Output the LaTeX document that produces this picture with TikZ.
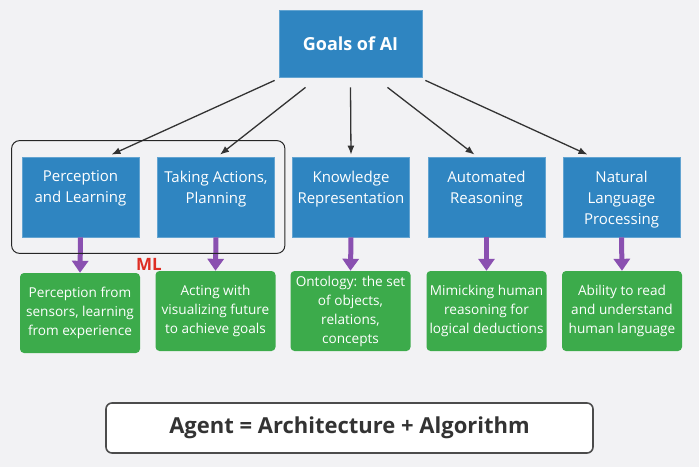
\documentclass[tikz,border=0pt]{standalone}
\usepackage{fontspec}
\setmainfont{Open Sans}
\usetikzlibrary{arrows.meta,positioning,fit}
\tikzset{>={Latex[length=9pt,width=7pt]}}
\definecolor{aiblue}{RGB}{47,133,193}
\definecolor{aigreen}{RGB}{60,171,75}
\definecolor{aipurple}{RGB}{138,80,176}
\definecolor{aibg}{RGB}{242,242,244}
\definecolor{aired}{RGB}{222,45,35}
\definecolor{aigray}{RGB}{51,51,51}

\begin{document}
\begin{tikzpicture}[x=1pt,y=-1pt,
    goalbox/.style={fill=aiblue,draw=aiblue!75!white,line width=0.8pt,
      minimum width=117pt,minimum height=80pt,inner sep=0pt},
    goaltext/.style={text=white,align=center,inner sep=0pt,
      font=\fontsize{15}{21}\selectfont},
    descbox/.style={fill=aigreen,rounded corners=4pt,minimum width=120pt,
      minimum height=80pt,inner sep=0pt,text=white,align=center,
      font=\fontsize{13.6}{19}\selectfont},
    subgoal/.style={->,line width=1.3pt,black!80},
    detail/.style={-{Triangle[length=12pt,width=16pt]},line width=5pt,aipurple}]
  \useasboundingbox (0,0) rectangle (699,467);
  \fill[aibg] (0,0) rectangle (699,467);
  % top goal
  \node[goalbox,minimum width=143pt,minimum height=67pt,text=white,
    font=\fontsize{18}{18}\bfseries\selectfont] (goals) at (350.5,43.5) {Goals of AI};
  % sub goals
  \node[goalbox] (perc) at (80.5,197) {};
  \node[goalbox] (act)  at (216,197) {};
  \node[goalbox] (know) at (351,197) {};
  \node[goalbox] (reas) at (486.5,197) {};
  \node[goalbox] (nlp)  at (621.5,197) {};
  \node[goaltext,below=14pt of perc.north] (perct) {Perception\\and Learning};
  \node[goaltext,below=14pt of act.north]  (actt)  {Taking Actions,\\Planning};
  \node[goaltext,below=14pt of know.north] (knowt) {Knowledge\\Representation};
  \node[goaltext,below=14pt of reas.north] (reast) {Automated\\Reasoning};
  \node[goaltext,below=14pt of nlp.north]  (nlpt)  {Natural\\Language\\Processing};
  % descriptions
  \node[descbox] (percd) at (80,313) {Perception from\\sensors, learning\\from experience};
  \node[descbox] (actd)  at (215.5,311) {Acting with\\visualizing future\\to achieve goals};
  \node[descbox] (knowd) at (350.5,311) {Ontology: the set\\of objects,\\relations,\\concepts};
  \node[descbox] (reasd) at (486.5,311) {Mimicking human\\reasoning for\\logical deductions};
  \node[descbox] (nlpd)  at (622,311) {Ability to read\\and understand\\human language};
  % arrows from the top
  \draw[subgoal] ([shift={(-4pt,-3pt)}]goals.south west) -- ([shift={(31pt,2pt)}]perc.north);
  \draw[subgoal] ([shift={(-45pt,-10pt)}]goals.south) -- ([shift={(4pt,2pt)}]act.north);
  \draw[subgoal] ([yshift=-10pt]goals.south) -- ([yshift=2pt]know.north);
  \draw[subgoal] ([shift={(37pt,-10pt)}]goals.south) -- ([shift={(-12pt,2pt)}]reas.north);
  \draw[subgoal] ([shift={(3pt,-3pt)}]goals.south east) -- ([shift={(-34pt,2pt)}]nlp.north);
  \foreach \g/\d in {perc/percd,act/actd,know/knowd,reas/reasd,nlp/nlpd}
    \draw[detail] (\g.south) -- (\d.north);
  % ML group
  \node[draw=black!85,line width=1pt,rounded corners=8pt,inner xsep=10pt,
    inner ysep=16pt,fit=(perc)(act)] (mlgroup) {};
  \node[text=aired,inner sep=0pt,font=\fontsize{17}{17}\bfseries\selectfont] (ml) at (149,264) {ML};
  % bottom
  \node[fill=white,draw=black!70,line width=1.6pt,rounded corners=6pt,
    minimum width=487pt,minimum height=50pt,text=aigray,
    font=\fontsize{22}{22}\bfseries\selectfont] (agent) at (349.5,428)
    {Agent = Architecture + Algorithm};
\end{tikzpicture}
\end{document}
